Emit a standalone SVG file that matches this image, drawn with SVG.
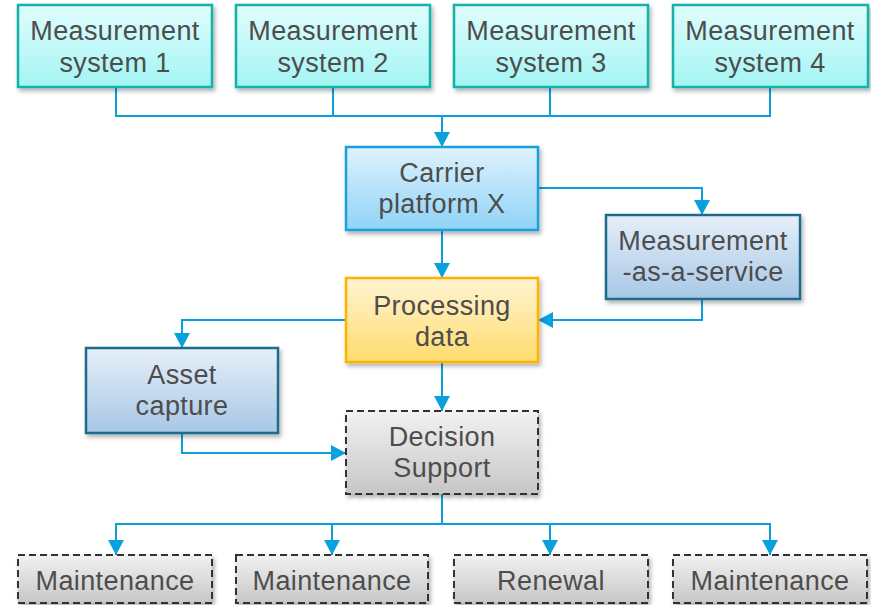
<svg xmlns="http://www.w3.org/2000/svg" width="871" height="605" viewBox="0 0 871 605">
  <defs>
    <linearGradient id="gCyan" x1="0" y1="0" x2="0" y2="1">
      <stop offset="0" stop-color="#e0fdfd"/>
      <stop offset="1" stop-color="#a3f5f3"/>
    </linearGradient>
    <linearGradient id="gSky" x1="0" y1="0" x2="0" y2="1">
      <stop offset="0" stop-color="#dff2fd"/>
      <stop offset="1" stop-color="#8fd3f7"/>
    </linearGradient>
    <linearGradient id="gSteel" x1="0" y1="0" x2="0" y2="1">
      <stop offset="0" stop-color="#e6eff9"/>
      <stop offset="1" stop-color="#a7c7e6"/>
    </linearGradient>
    <linearGradient id="gGold" x1="0" y1="0" x2="0" y2="1">
      <stop offset="0" stop-color="#fff4d2"/>
      <stop offset="1" stop-color="#ffdc6e"/>
    </linearGradient>
    <linearGradient id="gGray" x1="0" y1="0" x2="0" y2="1">
      <stop offset="0" stop-color="#f2f2f2"/>
      <stop offset="1" stop-color="#c6c6c6"/>
    </linearGradient>
    <filter id="shadow" x="-10%" y="-10%" width="125%" height="135%">
      <feDropShadow dx="2" dy="3" stdDeviation="2" flood-color="#000" flood-opacity="0.3"/>
    </filter>
    <marker id="arrow" viewBox="0 0 15 16" refX="15" refY="8" markerWidth="15" markerHeight="16" markerUnits="userSpaceOnUse" orient="auto">
      <path d="M0,0 L15,8 L0,16 Z" fill="#0aa0dc"/>
    </marker>
  </defs>
  <style>
    .box { stroke-width: 2.5; filter: url(#shadow); }
    .sys { fill: url(#gCyan); stroke: #14b1a8; }
    .carrier { fill: url(#gSky); stroke: #1a9fdb; }
    .steel { fill: url(#gSteel); stroke: #1d6c8c; }
    .proc { fill: url(#gGold); stroke: #ffb000; }
    .dash { fill: url(#gGray); stroke: #333333; stroke-dasharray: 7 4; stroke-width: 2; }
    .lbl { font-family: "Liberation Sans", Arial, sans-serif; font-size: 27px; letter-spacing: 0.4px; fill: #4d4d4d; text-anchor: middle; }
    .wire { fill: none; stroke: #0aa0dc; stroke-width: 2; }
    .head { marker-end: url(#arrow); }
  </style>

  <g id="connectors">
    <!-- measurement systems merge into the carrier -->
    <path class="wire" d="M116,87 V116 H770 V87"/>
    <path class="wire" d="M333,87 V116"/>
    <path class="wire" d="M550,87 V116"/>
    <path class="wire head" d="M442,116 V147"/>
    <!-- carrier to service and processing -->
    <path class="wire head" d="M538,188 H702 V215"/>
    <path class="wire head" d="M442,230 V278"/>
    <!-- service back into processing -->
    <path class="wire head" d="M702,299 V320 H538"/>
    <!-- processing to asset capture and decision support -->
    <path class="wire head" d="M346,320 H182 V348"/>
    <path class="wire head" d="M442,362 V411"/>
    <path class="wire head" d="M182,433 V453 H346"/>
    <!-- decision support fans out to actions -->
    <path class="wire" d="M442,494 V524"/>
    <path class="wire head" d="M442,524 H116 V555"/>
    <path class="wire head" d="M332,524 V555"/>
    <path class="wire head" d="M442,524 H770 V555"/>
    <path class="wire head" d="M550,524 V555"/>
  </g>

  <g id="ms1">
    <rect class="box sys" x="18" y="5" width="194" height="82"/>
    <text class="lbl" x="115" y="40">Measurement</text>
    <text class="lbl" x="115" y="72">system 1</text>
  </g>
  <g id="ms2">
    <rect class="box sys" x="236" y="5" width="194" height="82"/>
    <text class="lbl" x="333" y="40">Measurement</text>
    <text class="lbl" x="333" y="72">system 2</text>
  </g>
  <g id="ms3">
    <rect class="box sys" x="454" y="5" width="194" height="82"/>
    <text class="lbl" x="551" y="40">Measurement</text>
    <text class="lbl" x="551" y="72">system 3</text>
  </g>
  <g id="ms4">
    <rect class="box sys" x="673" y="5" width="195" height="82"/>
    <text class="lbl" x="770" y="40">Measurement</text>
    <text class="lbl" x="770" y="72">system 4</text>
  </g>

  <g id="carrier">
    <rect class="box carrier" x="346" y="147" width="192" height="83"/>
    <text class="lbl" x="442" y="182">Carrier</text>
    <text class="lbl" x="442" y="213">platform X</text>
  </g>

  <g id="maas">
    <rect class="box steel" x="606" y="215" width="194" height="84"/>
    <text class="lbl" x="703" y="250">Measurement</text>
    <text class="lbl" x="703" y="281">-as-a-service</text>
  </g>

  <g id="processing">
    <rect class="box proc" x="346" y="278" width="192" height="84"/>
    <text class="lbl" x="442" y="315">Processing</text>
    <text class="lbl" x="442" y="346">data</text>
  </g>

  <g id="asset">
    <rect class="box steel" x="86" y="348" width="192" height="85"/>
    <text class="lbl" x="182" y="384">Asset</text>
    <text class="lbl" x="182" y="415">capture</text>
  </g>

  <g id="decision">
    <rect class="box dash" x="346" y="411" width="192" height="83"/>
    <text class="lbl" x="442" y="446">Decision</text>
    <text class="lbl" x="442" y="477">Support</text>
  </g>

  <g id="act1">
    <rect class="box dash" x="18" y="555" width="194" height="48"/>
    <text class="lbl" x="115" y="590">Maintenance</text>
  </g>
  <g id="act2">
    <rect class="box dash" x="236" y="555" width="192" height="48"/>
    <text class="lbl" x="332" y="590">Maintenance</text>
  </g>
  <g id="act3">
    <rect class="box dash" x="454" y="555" width="194" height="48"/>
    <text class="lbl" x="551" y="590">Renewal</text>
  </g>
  <g id="act4">
    <rect class="box dash" x="673" y="555" width="194" height="48"/>
    <text class="lbl" x="770" y="590">Maintenance</text>
  </g>
</svg>
